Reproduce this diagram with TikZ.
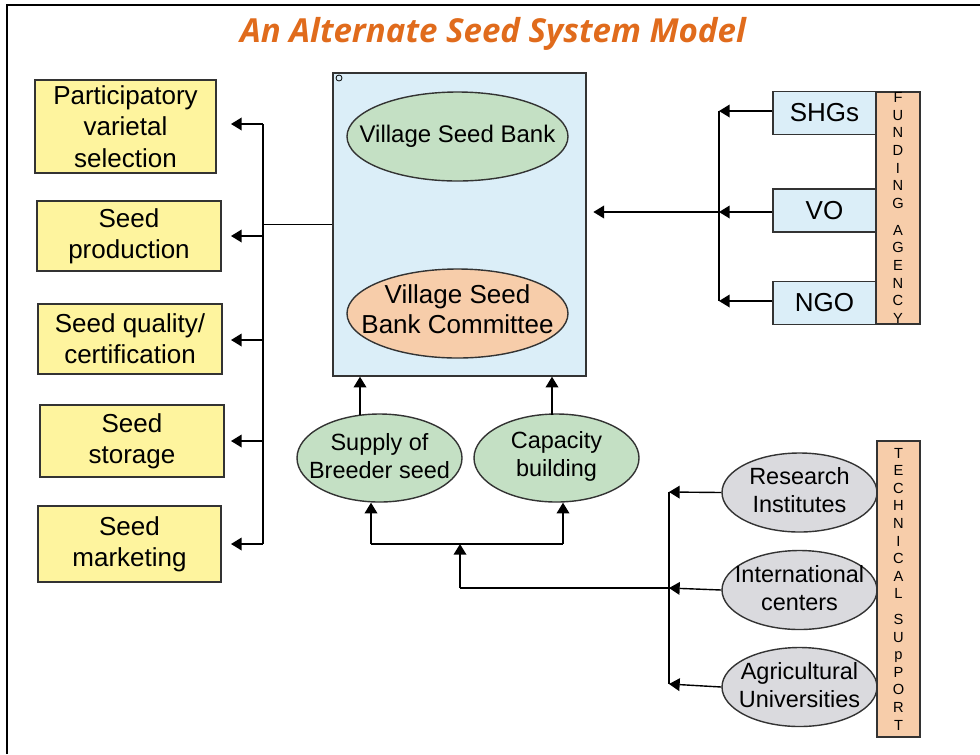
\documentclass[tikz,border=0pt]{standalone}
\usepackage{fontspec}
\setmainfont{Liberation Sans}
\newfontfamily\titlefont{Open Sans}
\usetikzlibrary{shapes.geometric,arrows.meta}

\definecolor{titleorange}{RGB}{224,107,28}
\definecolor{boxyellow}{RGB}{254,244,158}
\definecolor{boxblue}{RGB}{219,238,248}
\definecolor{ovalgreen}{RGB}{196,224,196}
\definecolor{ovalpeach}{RGB}{247,205,170}
\definecolor{ovalgray}{RGB}{218,218,222}

\begin{document}
\begin{tikzpicture}[x=0.75pt,y=-0.75pt,line width=1.05pt,
    box/.style={draw=black!80,rectangle,inner sep=0pt,align=center,
      font=\fontsize{19.5}{23.5}\selectfont},
    oval/.style={draw=black!80,ellipse,inner sep=0pt},
    lbl/.style={align=center,font=\fontsize{17.6}{21}\selectfont},
    vtext/.style={draw=black!80,fill=ovalpeach,rectangle,inner sep=0pt,
      align=center,font=\fontsize{11}{13.2}\selectfont},
    arr/.style={-{Triangle[length=8pt,width=9.5pt]}}]
      \useasboundingbox (0,0) rectangle (980,754);
      \draw[line width=1.6pt] (7,754) -- (7,5) -- (980,5);

      \node[text=titleorange,font=\titlefont\bfseries\itshape\fontsize{24.8}{30}\selectfont]
        (title) at (493,34) {An Alternate Seed System Model};

      % left column
      \node[box,fill=boxyellow,minimum width=135.75pt,minimum height=69.75pt]
        (pvs) at (125.5,126.5) {Participatory\\varietal\\selection};
      \node[box,fill=boxyellow,minimum width=138pt,minimum height=52.5pt]
        (prod) at (129,236) {Seed\\production};
      \node[box,fill=boxyellow,minimum width=138pt,minimum height=52.5pt]
        (qual) at (130,339) {Seed quality/\\certification};
      \node[box,fill=boxyellow,minimum width=138pt,minimum height=54pt]
        (stor) at (132,441) {Seed\\storage};
      \node[box,fill=boxyellow,minimum width=137.25pt,minimum height=57pt]
        (mark) at (129.5,544) {Seed\\marketing};

      % village seed bank
      \node[box,fill=boxblue,minimum width=189.75pt,minimum height=227.25pt]
        (vsb) at (459.5,224.5) {};
      \node[draw,circle,inner sep=0pt,minimum size=4.5pt,line width=0.6pt]
        (dot) at (339,78) {};
      \node[oval,fill=ovalgreen,minimum width=165.75pt,minimum height=66.75pt,
        label={[lbl,font=\fontsize{18}{21}\selectfont]center:Village Seed Bank}]
        (bank) at (457.5,136.5) {};
      \node[oval,fill=ovalpeach,minimum width=165.75pt,minimum height=66.75pt,
        label={[lbl,font=\fontsize{19.5}{22.5}\selectfont,yshift=3pt]center:Village Seed\\Bank Committee}]
        (comm) at (457.5,313.5) {};

      \node[oval,fill=ovalgreen,minimum width=123.75pt,minimum height=66pt,
        label={[lbl,yshift=1.5pt]center:Supply of\\Breeder seed}]
        (supply) at (379.5,458) {};
      \node[oval,fill=ovalgreen,minimum width=123.75pt,minimum height=66pt,
        label={[lbl,yshift=1.5pt]center:Capacity\\building}]
        (capa) at (556.5,458) {};

      % funding
      \node[box,fill=boxblue,minimum width=77.25pt,minimum height=32.25pt]
        (shg) at (824.5,113) {SHGs};
      \node[box,fill=boxblue,minimum width=77.25pt,minimum height=32.25pt]
        (vo) at (824.5,210.5) {VO};
      \node[box,fill=boxblue,minimum width=77.25pt,minimum height=32.25pt]
        (ngo) at (824.5,303) {NGO};
      \node[vtext,minimum width=33pt,minimum height=174pt]
        (fund) at (898,208) {F\\U\\N\\D\\I\\N\\G\\[7pt]A\\G\\E\\N\\C\\Y};

      % technical support
      \node[oval,fill=ovalgray,minimum width=116.25pt,minimum height=59.25pt,
        label={[lbl,yshift=1.5pt]center:Research\\Institutes}]
        (resi) at (799.5,492.5) {};
      \node[oval,fill=ovalgray,minimum width=116.25pt,minimum height=59.25pt,
        label={[lbl,yshift=1.5pt]center:International\\centers}]
        (intc) at (799.5,590) {};
      \node[oval,fill=ovalgray,minimum width=116.25pt,minimum height=59.25pt,
        label={[lbl,yshift=1.5pt]center:Agricultural\\Universities}]
        (agru) at (799.5,687) {};
      \node[vtext,minimum width=32.25pt,minimum height=222pt]
        (tech) at (898.5,589) {T\\E\\C\\H\\N\\I\\C\\A\\L\\[6pt]S\\U\\p\\P\\O\\R\\T};

      % junction points
      \coordinate (ltip) at (231,0);
      \coordinate (lb1) at (263,124);
      \coordinate (lb2) at (263,236);
      \coordinate (lb3) at (263,340);
      \coordinate (lb4) at (263,441);
      \coordinate (lb5) at (263,544);
      \coordinate (rb1) at (719,111);
      \coordinate (rb2) at (719,212);
      \coordinate (rb3) at (719,301);
      \coordinate (up1) at (360,415);
      \coordinate (up2) at (552,415);
      \coordinate (j1) at (371,544);
      \coordinate (j2) at (563,544);
      \coordinate (j3) at (460,544);
      \coordinate (j4) at (460,588);
      \coordinate (bb1) at (669,492);
      \coordinate (bb2) at (669,588);
      \coordinate (bb3) at (669,684);

      \draw (lb1) -- (lb5)
            (vsb.west) -- (vsb.west -| lb1)
            (rb1) -- (rb3)
            (j1) -- (j2)
            (j4) -- (bb2)
            (bb1) -- (bb3);

      \draw[arr] (lb1) -- (lb1 -| ltip);
      \draw[arr] (lb2) -- (lb2 -| ltip);
      \draw[arr] (lb3) -- (lb3 -| ltip);
      \draw[arr] (lb4) -- (lb4 -| ltip);
      \draw[arr] (lb5) -- (lb5 -| ltip);

      \draw[arr] (shg.west |- rb1) -- (rb1);
      \draw[arr] (vo.west |- rb2) -- (rb2);
      \draw[arr] (ngo.west |- rb3) -- (rb3);
      \draw[arr,shorten >=5pt] (rb2) -- (rb2 -| vsb.east);

      \draw[arr] (up1) -- (up1 |- vsb.south);
      \draw[arr] (up2) -- (up2 |- vsb.south);
      \draw[arr] (j1) -- (j1 |- supply.south);
      \draw[arr] (j2) -- (j2 |- capa.south);
      \draw[arr] (j4) -- (j3);

      \draw[arr] (resi.west) -- (bb1);
      \draw[arr] (intc.west) -- (bb2);
      \draw[arr] (agru.west) -- (bb3);
    \end{tikzpicture}
\end{document}
